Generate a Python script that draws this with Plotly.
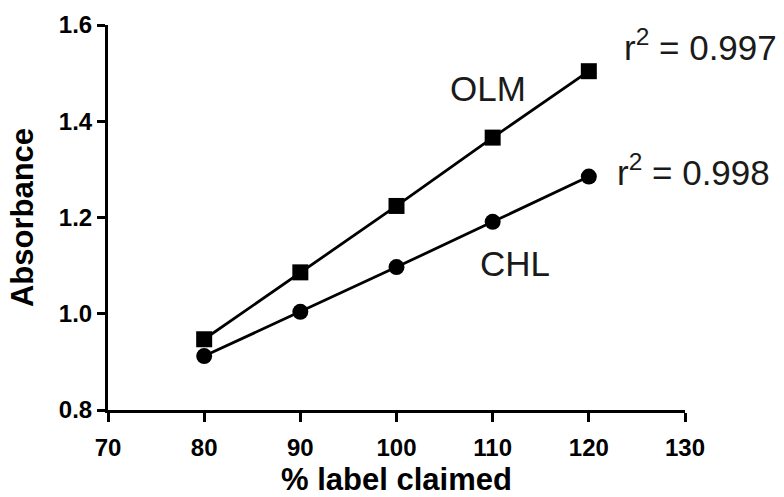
import plotly.graph_objects as go

x_vals = [80, 90, 100, 110, 120]
olm_vals = [0.947, 1.086, 1.224, 1.366, 1.504]
chl_vals = [0.912, 1.004, 1.097, 1.191, 1.285]
x_ticks = [70, 80, 90, 100, 110, 120, 130]
y_ticks = [0.8, 1.0, 1.2, 1.4, 1.6]

FAM = "Liberation Sans, Arial, sans-serif"

fig = go.Figure()
fig.add_trace(go.Scatter(x=x_vals, y=olm_vals, mode="lines+markers", name="OLM",
                         line=dict(color="black", width=2.8),
                         marker=dict(symbol="square", size=16, color="black"),
                         cliponaxis=False))
fig.add_trace(go.Scatter(x=x_vals, y=chl_vals, mode="lines+markers", name="CHL",
                         line=dict(color="black", width=2.8),
                         marker=dict(symbol="circle", size=16, color="black"),
                         cliponaxis=False))

ann_font = dict(family=FAM, size=35, color="#1a1a1a")
fig.add_annotation(x=109.5, y=1.468, text="OLM", showarrow=False, font=ann_font)
fig.add_annotation(x=112.3, y=1.104, text="CHL", showarrow=False, font=ann_font)
fig.add_annotation(x=123.45, y=1.558, text="r<sup>2</sup> = 0.997", showarrow=False,
                   xanchor="left", font=ann_font)
fig.add_annotation(x=122.7, y=1.298, text="r<sup>2</sup> = 0.998", showarrow=False,
                   xanchor="left", font=ann_font)

tick_font = dict(family=FAM, size=24, color="black", weight="bold")
title_font = dict(family=FAM, size=31, color="black", weight="bold")
fig.update_layout(
    width=784, height=497,
    margin=dict(l=108, r=99, t=25, b=87, autoexpand=False),
    paper_bgcolor="white", plot_bgcolor="white",
    showlegend=False,
    xaxis=dict(range=[70, 130], tickvals=x_ticks, ticks="outside", ticklen=9, tickwidth=3,
               tickcolor="black", showline=True, linecolor="black", linewidth=3,
               showgrid=False, zeroline=False, tickfont=tick_font, ticklabelstandoff=5,
               automargin=False,
               title=dict(text="% label claimed", font=title_font, standoff=12)),
    yaxis=dict(range=[0.8, 1.6], tickvals=y_ticks, tickformat=".1f", ticks="outside", ticklen=8, tickwidth=3,
               tickcolor="black", showline=True, linecolor="black", linewidth=3,
               showgrid=False, zeroline=False, tickfont=tick_font, automargin=False,
               title=dict(text="Absorbance", font=title_font, standoff=16)),
)
fig.write_html("out.html", config={"displayModeBar": False},
               post_script="document.body.style.margin='0';")
